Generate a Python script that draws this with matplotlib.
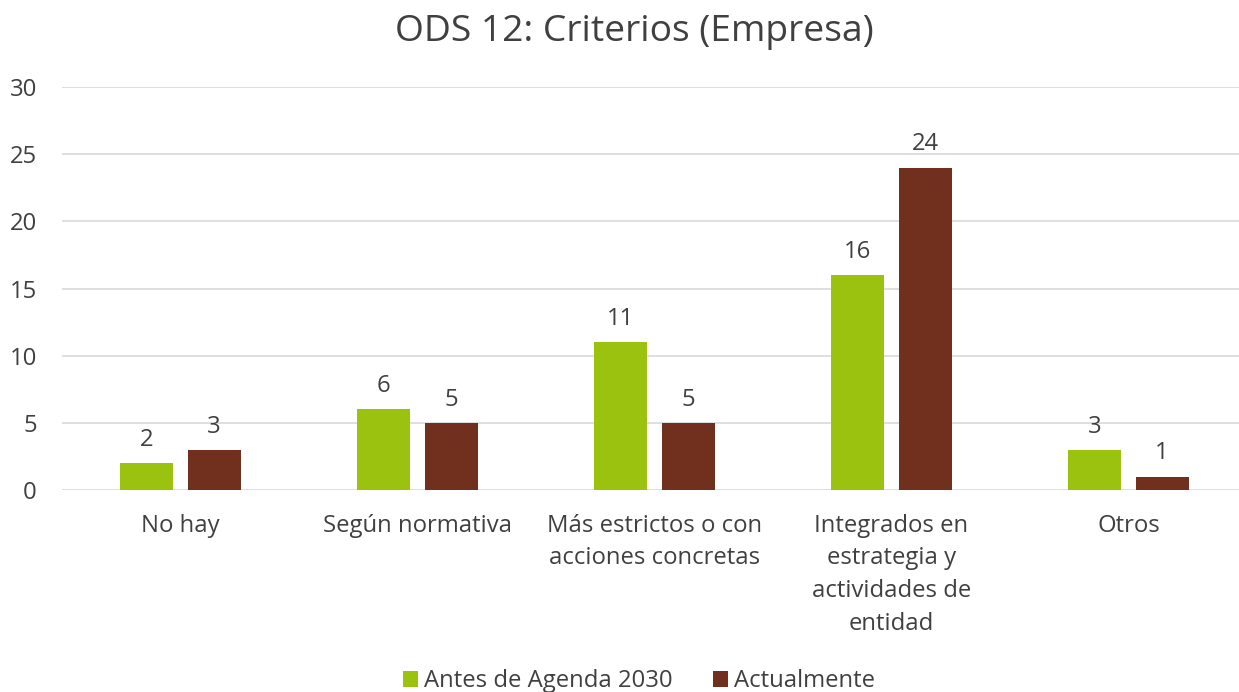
import matplotlib
matplotlib.use("Agg")
import matplotlib.pyplot as plt
import numpy as np

categories = ["No hay", "Según normativa", "Más estrictos o con\nacciones concretas",
              "Integrados en\nestrategia y\nactividades de\nentidad", "Otros"]
antes = [2, 6, 11, 16, 3]
actual = [3, 5, 5, 24, 1]
series_names = ["Antes de Agenda 2030", "Actualmente"]
yticks = [0, 5, 10, 15, 20, 25, 30]

plt.rcParams['font.family'] = ['Open Sans', 'DejaVu Sans']
green = "#9BC20F"
brown = "#70301D"
txt = "#404040"
fs = 17.2

fig = plt.figure(figsize=(12.39, 6.92), dpi=100)
W, H = 1239, 692
left, right = 62, 1247
y0, y30 = 490, 87
ax = fig.add_axes([left / W, 1 - y0 / H, (right - left) / W, (y0 - y30) / H])

x = np.arange(len(categories))
bw = 0.224
off = 0.142
b1 = ax.bar(x - off, antes, bw, color=green, label=series_names[0], zorder=3)
b2 = ax.bar(x + off, actual, bw, color=brown, label=series_names[1], zorder=3)
for bars in (b1, b2):
    for r in bars:
        ax.annotate(f"{int(r.get_height())}", (r.get_x() + r.get_width() / 2, r.get_height()),
                    xytext=(0, 8), textcoords="offset points", ha="center", va="bottom",
                    fontsize=fs, color=txt)

ax.set_xlim(-0.5, len(categories) - 0.5)
ax.set_ylim(0, 30)
ax.set_yticks(yticks)
ax.yaxis.grid(True, color="#D9D9D9", linewidth=1.2, zorder=0)
ax.set_axisbelow(True)
for s in ax.spines.values():
    s.set_visible(False)
ax.tick_params(axis="both", length=0, labelsize=fs, colors=txt)
ax.tick_params(axis="y", pad=18)
ax.set_xticks(x)
ax.set_xticklabels(categories, linespacing=1.48)
ax.tick_params(axis="x", pad=17)

fig.text(634 / W, 1 - 32 / H, "ODS 12: Criterios (Empresa)", ha="center", va="center",
         fontsize=26.8, color=txt)
fig.legend(handles=[b1, b2], labels=series_names, loc="center", bbox_to_anchor=(639 / W, 1 - 681 / H),
           ncol=2, frameon=False, fontsize=fs, handlelength=0.65, handleheight=0.65,
           handletextpad=0.25, columnspacing=1.68, labelcolor=txt, borderpad=0)

fig.savefig("out.png", dpi=100)
